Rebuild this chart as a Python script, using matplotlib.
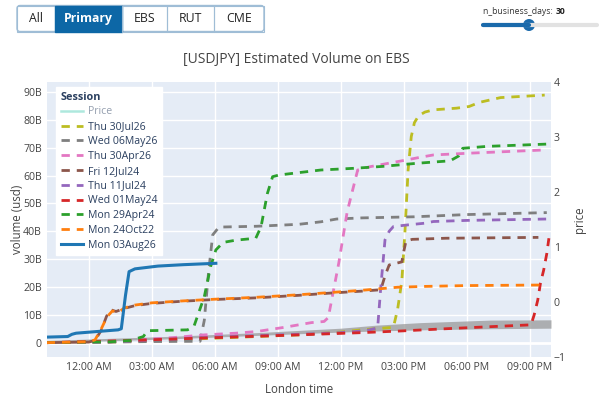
import numpy as np
import matplotlib
matplotlib.use("Agg")
import matplotlib.pyplot as plt
from matplotlib.patches import Rectangle, FancyBboxPatch, Circle
from matplotlib.lines import Line2D

plt.rcParams['font.family'] = ['Open Sans', 'DejaVu Sans']
plt.rcParams['lines.scale_dashes'] = False

# hours relative to London midnight, volumes in billions USD
tick_hours = [0, 3, 6, 9, 12, 15, 18, 21]
tick_labels = ["12:00 AM", "03:00 AM", "06:00 AM", "09:00 AM",
               "12:00 PM", "03:00 PM", "06:00 PM", "09:00 PM"]
vol_ticks = [0, 10, 20, 30, 40, 50, 60, 70, 80, 90]
vol_labels = ["0", "10B", "20B", "30B", "40B", "50B", "60B", "70B", "80B", "90B"]
price_ticks = [-1, 0, 1, 2, 3, 4]

# grey band
band_h = [-2, 4, 8, 10, 12, 13.7, 15.8, 19.1, 22]
band_lo = [0, 1.4, 2.6, 3.2, 3.8, 4.2, 4.6, 5.0, 5.2]
band_hi = [0.8, 2.3, 3.6, 4.4, 5.2, 6.3, 7.2, 8.1, 8.2]

thu_30jul26_h = [-2, 1, 2, 4, 6, 8, 10, 12, 13, 14.5, 14.7, 14.9, 15.05, 15.2, 15.35, 15.5, 15.7, 16.0, 16.4, 17.5, 18.1, 18.6, 19.6, 21.7]
thu_30jul26_v = [0, 0.2, 0.5, 1.0, 1.6, 2.2, 2.8, 3.8, 4.6, 5.5, 12, 22, 40, 62, 74, 79, 81.5, 82.8, 83.6, 84.2, 84.8, 86.3, 88, 88.9]

wed_06may26_h = [-2, 1.0, 2.0, 3.0, 5.3, 5.5, 5.7, 5.9, 6.2, 8, 10, 11.05, 11.8, 13, 15.5, 18, 21.8]
wed_06may26_v = [0, 0.2, 0.3, 0.4, 0.5, 8, 25, 38.7, 41.5, 41.8, 42.5, 43.4, 44.4, 44.8, 45.2, 46, 46.7]

thu_30apr26_h = [-2, 1, 2, 4, 5.5, 7, 8, 9.3, 10.6, 11.2, 11.4, 11.9, 12.3, 12.8, 13.4, 14.9, 15.8, 16.4, 18, 21.7]
thu_30apr26_v = [0, 0.3, 0.8, 1.8, 2.8, 3.4, 4.0, 5.5, 7.2, 7.6, 9, 28.6, 47, 62, 63.2, 65.3, 66.6, 67.4, 68, 69.2]

fri_12jul24_h = [-2, 0, 0.3, 0.6, 0.85, 1.05, 1.3, 1.7, 2.2, 3.0, 4.5, 6.0, 8, 10, 11.5, 13, 13.9, 14.1, 14.3, 14.9, 15.0, 15.1, 15.4, 17, 21.4]
fri_12jul24_v = [0, 0.2, 0.8, 4.5, 9.5, 11.8, 11.2, 12.3, 13.3, 14.1, 14.9, 15.5, 16.1, 17.0, 17.8, 18.5, 19.0, 24, 27.9, 29, 33, 36.5, 37.1, 37.5, 37.8]

thu_11jul24_h = [-2, 1, 2, 4, 6, 8, 10, 12, 13.2, 13.75, 13.9, 14.1, 14.3, 14.5, 15.2, 16, 16.4, 18, 21.8]
thu_11jul24_v = [0, 0.3, 0.7, 1.3, 2.0, 2.5, 3.0, 3.6, 4.3, 5.3, 20, 36.9, 40, 41.7, 42.3, 42.9, 43.5, 43.9, 44.4]

wed_01may24_h = [-2, 2, 6, 10, 13, 14.86, 17, 19, 21.05, 21.2, 21.37, 21.5, 21.65, 21.8, 21.9]
wed_01may24_v = [0, 0.8, 1.8, 2.8, 3.6, 4.2, 5.0, 5.7, 6.4, 10, 15.3, 21.4, 26, 32, 37.5]

mon_29apr24_h = [-2, 1.0, 2.0, 2.6, 2.8, 3.5, 4.7, 5.0, 5.5, 5.8, 6.05, 6.4, 7.0, 7.95, 8.2, 8.5, 8.75, 9.05, 11.05, 12.6, 14, 15.6, 17.2, 17.6, 17.8, 19, 21.8]
mon_29apr24_v = [0, 0.3, 0.8, 2.2, 4.3, 4.4, 4.6, 5.7, 16.5, 27.3, 33.3, 36.0, 36.8, 37.5, 41.6, 53.5, 59.6, 60.2, 62.0, 62.6, 63.3, 64.4, 65.3, 67, 69.8, 70.5, 71.3]

mon_24oct22_h = [-2, 0, 0.3, 0.6, 0.87, 1.13, 1.4, 1.7, 2.2, 3.0, 4.5, 6.0, 8, 10, 11.5, 13, 14.7, 16, 18, 21.6]
mon_24oct22_v = [0, 0.3, 1.0, 5, 9.3, 11.4, 10.8, 12.5, 13.5, 14.3, 15.0, 15.6, 16.3, 17.2, 18.0, 18.8, 19.9, 20.2, 20.5, 20.7]

mon_03aug26_h = [-1.95, -1.0, -0.8, -0.6, 0.4, 1.4, 1.55, 1.75, 1.92, 2.2, 3.3, 4.5, 6.05]
mon_03aug26_v = [2.0, 2.2, 3.0, 3.4, 4.0, 4.6, 5.0, 17, 25.5, 26.5, 27.5, 28.0, 28.5]

sessions = [
    ("Thu 30Jul26", thu_30jul26_h, thu_30jul26_v, "#bcbd22"),
    ("Wed 06May26", wed_06may26_h, wed_06may26_v, "#7f7f7f"),
    ("Thu 30Apr26", thu_30apr26_h, thu_30apr26_v, "#e377c2"),
    ("Fri 12Jul24", fri_12jul24_h, fri_12jul24_v, "#8c564b"),
    ("Thu 11Jul24", thu_11jul24_h, thu_11jul24_v, "#9467bd"),
    ("Wed 01May24", wed_01may24_h, wed_01may24_v, "#d62728"),
    ("Mon 29Apr24", mon_29apr24_h, mon_29apr24_v, "#2ca02c"),
    ("Mon 24Oct22", mon_24oct22_h, mon_24oct22_v, "#ff7f0e"),
]

W, H = 606, 403
fig = plt.figure(figsize=(W / 100, H / 100), dpi=100)
fig.patch.set_facecolor("white")

x0, x1, y0, y1 = 46.7, 551, 82, 357
ax = fig.add_axes([x0 / W, 1 - y1 / H, (x1 - x0) / W, (y1 - y0) / H])
ax.set_facecolor("#E5ECF6")
for s in ax.spines.values():
    s.set_visible(False)
ax.set_xlim(-2, 22)
ax.set_ylim(-5.15, 93.6)
ax.set_xticks(tick_hours)
ax.set_xticklabels(tick_labels)
ax.set_yticks(vol_ticks)
ax.set_yticklabels(vol_labels)
ax.tick_params(length=0, labelsize=7.6, colors="#444444")
ax.tick_params(axis="y", pad=3.5)
ax.tick_params(axis="x", pad=3.5)
ax.grid(True, color="white", linewidth=1)
ax.set_axisbelow(True)
ax.axhline(0, color="white", linewidth=2, zorder=0.5)

ax.fill_between(band_h, band_lo, band_hi, color="#9a9a9a", alpha=0.75, linewidth=0, zorder=1)

handles = [Line2D([], [], color="#5fd3bd", linewidth=1.8, alpha=0.5)]
labels = ["Price"]
for name, hh, vv, col in sessions:
    # brown runs on top of orange, shift its dash phase so both show
    off = 5.5 if name == "Fri 12Jul24" else 0
    ax.plot(hh, vv, color=col, linewidth=2, linestyle=(off, (6, 5)), zorder=2)
    handles.append(Line2D([], [], color=col, linewidth=2, dashes=(6, 5)))
    labels.append(name)
ln, = ax.plot(mon_03aug26_h, mon_03aug26_v, color="#1f77b4", linewidth=2.2, zorder=3)
handles.append(ln)
labels.append("Mon 03Aug26")

ax.set_xlabel("London time", fontsize=8.3, color="#444444", labelpad=7)
ax.set_ylabel("volume (usd)", fontsize=8.3, color="#444444", labelpad=-1)

ax2 = ax.twinx()
for s in ax2.spines.values():
    s.set_visible(False)
ax2.set_ylim(-1, 4)
ax2.set_yticks(price_ticks)
ax2.set_yticklabels([str(t).replace("-", "\u2212") for t in price_ticks])
ax2.tick_params(length=0, labelsize=7.6, colors="#444444", pad=2)
ax2.set_ylabel("price", fontsize=8.3, color="#444444", labelpad=5)

leg = ax2.legend(handles, labels, title="Session", loc="upper left",
                 bbox_to_anchor=(0.018, 0.982), borderaxespad=0,
                 fontsize=7.6, title_fontsize=7.8, frameon=True, fancybox=False,
                 alignment="left", labelspacing=0.36, handlelength=2.1,
                 handletextpad=0.5, borderpad=0.45)
leg.get_frame().set_facecolor("white")
leg.get_frame().set_edgecolor("white")
leg.get_frame().set_alpha(1)
leg.get_title().set_fontweight("bold")
leg.get_title().set_color("#2a3f5f")
for i, t in enumerate(leg.get_texts()):
    t.set_color("#2a3f5f")
    if i == 0:
        t.set_alpha(0.5)

# page overlay: title, buttons, slider
ov = fig.add_axes([0, 0, 1, 1], zorder=-1)
ov.set_xlim(0, W)
ov.set_ylim(H, 0)
ov.axis("off")

ov.text(296, 60, "[USDJPY] Estimated Volume on EBS", ha="center", va="center",
        fontsize=10, color="#444444")

buttons = [("All", 17, 55), ("Primary", 55, 122), ("EBS", 122, 167),
           ("RUT", 167, 214), ("CME", 214, 264)]
ov.add_patch(FancyBboxPatch((17, 5.5), 247, 26, boxstyle="round,pad=0,rounding_size=3",
                            facecolor="white", edgecolor="#9fbdd6", linewidth=1))
for name, bx0, bx1 in buttons:
    if name == "Primary":
        ov.add_patch(Rectangle((bx0, 5.5), bx1 - bx0, 26, facecolor="#0d67a6",
                               edgecolor="#0d67a6", linewidth=1))
        ov.text((bx0 + bx1) / 2, 18.5, name, ha="center", va="center",
                fontsize=8.8, color="white", fontweight="bold")
    else:
        ov.add_patch(Rectangle((bx0, 5.5), bx1 - bx0, 26, facecolor="none",
                               edgecolor="#9fbdd6", linewidth=0.8))
        ov.text((bx0 + bx1) / 2, 18.5, name, ha="center", va="center",
                fontsize=8.8, color="#222222")

ov.text(483, 11.5, "n_business_days: ", ha="left", va="center", fontsize=6.2, color="#333333")
ov.text(556, 11.5, "30", ha="left", va="center", fontsize=6.2, color="#222222", fontweight="bold")
ov.plot([483, 597], [25, 25], color="#e2e2e2", linewidth=3, solid_capstyle="round")
ov.plot([483, 529], [25, 25], color="#1b6aab", linewidth=3, solid_capstyle="round")
ov.add_patch(Circle((529, 25), 6, facecolor="#1b6aab", edgecolor="none"))

fig.savefig("out.png", dpi=100)
